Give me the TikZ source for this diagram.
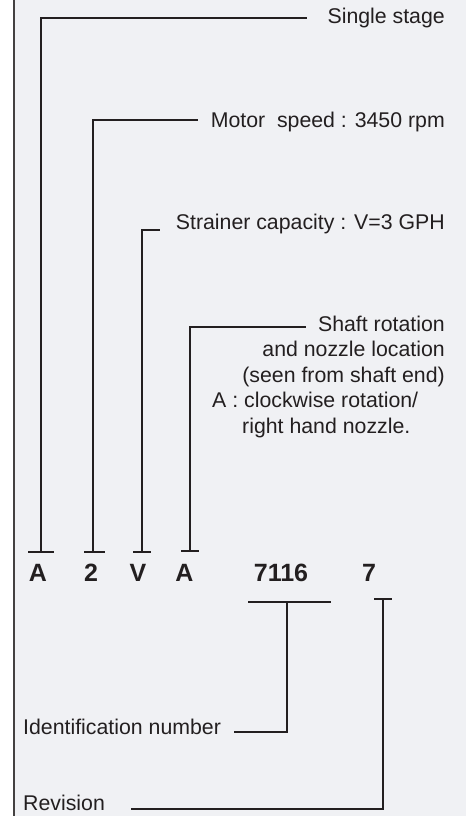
\documentclass[tikz,border=0pt]{standalone}
\usepackage{fontspec}
\setmainfont{Liberation Sans}
\definecolor{bg}{RGB}{240,241,244}
\definecolor{ink}{RGB}{35,31,32}
\begin{document}
\begin{tikzpicture}[x=1pt,y=-1pt,
  lbl/.style={font=\fontsize{21.3}{25.5}\selectfont, inner sep=0pt, text=ink},
  code/.style={font=\fontsize{25}{28}\selectfont\bfseries, inner sep=0pt, text=ink, anchor=base},
  lead/.style={draw=ink, line width=2.7pt, line cap=butt, line join=miter},
  frame/.style={draw=ink!85, line width=2.2pt}]
\useasboundingbox (0,0) rectangle (466,816);
\fill[bg] (14,0) rectangle (466,816);
\draw[frame] (14,0) -- (14,816);

% code letters
\node[code] (cA1) at (38,581) {A};
\node[code] (c2) at (91,581) {2};
\node[code] (cV) at (138,581) {V};
\node[code] (cA2) at (184.5,581) {A};
\node[code] (cId) at (281,581) {7116};
\node[code] (cRev) at (369,581) {7};

% labels
\node[lbl, anchor=base east] (ss) at (445,24) {Single stage};
\node[lbl, anchor=base east] (ms) at (445,127) {Motor~~speed : 3450 rpm};
\node[lbl, anchor=base east] (sc) at (445,229) {Strainer capacity : V=3 GPH};
\node[lbl, anchor=base east] (sr1) at (445,331) {Shaft rotation};
\node[lbl, anchor=base east] (sr2) at (445,356.5) {and nozzle location};
\node[lbl, anchor=base east] (sr3) at (445,382) {(seen from shaft end)};
\node[lbl, anchor=base west] (sr4) at (212,407.5) {A : clockwise rotation/};
\node[lbl, anchor=base west] (sr5) at (242,433) {right hand nozzle.};
\node[lbl, anchor=base west] (idn) at (23,734) {Identification number};
\node[lbl, anchor=base west] (rev) at (23,810) {Revision};

% tick bars and connector points
\coordinate (tA1l) at (28,552); \coordinate (tA1r) at (54,552); \coordinate (tA1) at (41,552);
\coordinate (t2l) at (84,552); \coordinate (t2r) at (105,552); \coordinate (t2) at (93,552);
\coordinate (tVl) at (133,552); \coordinate (tVr) at (151,552); \coordinate (tV) at (142,552);
\coordinate (tA2l) at (181,551); \coordinate (tA2r) at (199,551); \coordinate (tA2) at (190,551);
\coordinate (tIdl) at (248,602); \coordinate (tIdr) at (331,602); \coordinate (tId) at (287,602);
\coordinate (tRevl) at (374,599); \coordinate (tRevr) at (392,599); \coordinate (tRev) at (383,599);

\coordinate (eSS) at (307,18);
\coordinate (eMS) at (198,120);
\coordinate (eSC) at (160,230);
\coordinate (eSR) at (306,327);
\coordinate (eId) at (234,732);
\coordinate (eRev) at (131,809);

\draw[lead] (tA1l) -- (tA1r);
\draw[lead] (t2l) -- (t2r);
\draw[lead] (tVl) -- (tVr);
\draw[lead] (tA2l) -- (tA2r);
\draw[lead] (tIdl) -- (tIdr);
\draw[lead] (tRevl) -- (tRevr);

\draw[lead] (tA1) |- (eSS);
\draw[lead] (t2) |- (eMS);
\draw[lead] (tV) |- (eSC);
\draw[lead] (tA2) |- (eSR);
\draw[lead] (tId) |- (eId);
\draw[lead] (tRev) |- (eRev);
\end{tikzpicture}
\end{document}
